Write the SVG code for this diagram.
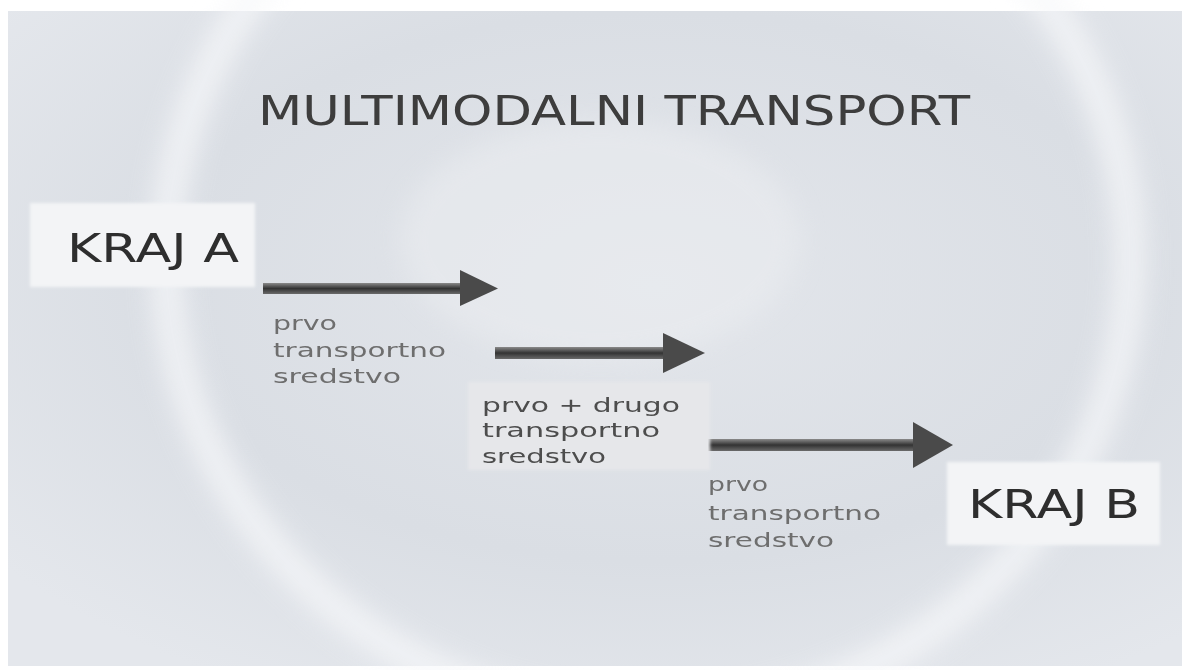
<svg xmlns="http://www.w3.org/2000/svg" width="1188" height="670" viewBox="0 0 1188 670">
  <defs>
    <style>
      .title { font-family: "DejaVu Sans", "Liberation Sans", sans-serif; font-size: 41px; fill: #3c3c3c; }
      .end { font-family: "DejaVu Sans", "Liberation Sans", sans-serif; font-size: 39px; fill: #2e2e2e; }
      .lbl { font-family: "DejaVu Sans", "Liberation Sans", sans-serif; font-size: 19px; fill: #6e6e6e; }
      .lbl2 { font-family: "DejaVu Sans", "Liberation Sans", sans-serif; font-size: 19px; fill: #4e4e4e; }
      .shaft { fill: url(#shaftGrad); }
      .head { fill: #4a4a4a; }
      .endbox { fill: #f3f4f6; filter: url(#soft); }
    </style>
    <linearGradient id="shaftGrad" x1="0" y1="0" x2="0" y2="1">
      <stop offset="0" stop-color="#8a8a8a"/>
      <stop offset="0.5" stop-color="#333"/>
      <stop offset="1" stop-color="#6a6a6a"/>
    </linearGradient>
    <radialGradient id="bgGrad" cx="0.55" cy="0.42" r="0.7">
      <stop offset="0" stop-color="#e3e6eb"/>
      <stop offset="0.6" stop-color="#dadee4"/>
      <stop offset="1" stop-color="#e4e7ec"/>
    </radialGradient>
    <filter id="glow" x="-20%" y="-20%" width="140%" height="140%">
      <feGaussianBlur stdDeviation="12"/>
    </filter>
    <filter id="soft" x="-5%" y="-5%" width="110%" height="110%">
      <feGaussianBlur stdDeviation="1.5"/>
    </filter>
    <filter id="txt">
      <feGaussianBlur stdDeviation="0.45"/>
    </filter>
  </defs>

  <rect x="0" y="0" width="1188" height="670" fill="#ffffff"/>
  <g id="background">
    <rect x="8" y="11" width="1174" height="655" fill="url(#bgGrad)"/>
    <ellipse cx="648" cy="259" rx="482" ry="458" fill="none" stroke="#f7f8fa" stroke-width="34" opacity="0.7" filter="url(#glow)"/>
    <ellipse cx="600" cy="240" rx="200" ry="120" fill="#eceef1" opacity="0.5" filter="url(#glow)"/>
  </g>

  <g id="title" filter="url(#txt)">
    <text class="title" x="258" y="125" textLength="712" lengthAdjust="spacingAndGlyphs">MULTIMODALNI TRANSPORT</text>
  </g>

  <g id="kraj-a">
    <rect class="endbox" x="30" y="203" width="225" height="84"/>
    <text class="end" x="67" y="262" textLength="172" lengthAdjust="spacingAndGlyphs" filter="url(#txt)">KRAJ A</text>
  </g>

  <g id="kraj-b">
    <rect class="endbox" x="947" y="462" width="213" height="83"/>
    <text class="end" x="968" y="518" textLength="172" lengthAdjust="spacingAndGlyphs" filter="url(#txt)">KRAJ B</text>
  </g>

  <g id="connectors">
    <g id="arrow-1">
      <rect class="shaft" x="263" y="283" width="199" height="11"/>
      <polygon class="head" points="460,270 498,288.5 460,306"/>
    </g>
    <g id="arrow-2">
      <rect class="shaft" x="495" y="347" width="170" height="12"/>
      <polygon class="head" points="663,333 705,353 663,373"/>
    </g>
    <g id="arrow-3">
      <rect class="shaft" x="708" y="439" width="207" height="12"/>
      <polygon class="head" points="913,422 953,445 913,468"/>
    </g>
  </g>

  <g id="label-1" filter="url(#txt)">
    <text class="lbl" x="273" y="330" textLength="64" lengthAdjust="spacingAndGlyphs">prvo</text>
    <text class="lbl" x="273" y="357" textLength="173" lengthAdjust="spacingAndGlyphs">transportno</text>
    <text class="lbl" x="273" y="383" textLength="128" lengthAdjust="spacingAndGlyphs">sredstvo</text>
  </g>

  <g id="label-2">
    <rect x="468" y="382" width="242" height="88" fill="#e6e7ea" filter="url(#soft)"/>
    <g filter="url(#txt)">
      <text class="lbl2" x="482" y="412" textLength="198" lengthAdjust="spacingAndGlyphs">prvo + drugo</text>
      <text class="lbl2" x="482" y="437" textLength="178" lengthAdjust="spacingAndGlyphs">transportno</text>
      <text class="lbl2" x="482" y="463" textLength="124" lengthAdjust="spacingAndGlyphs">sredstvo</text>
    </g>
  </g>

  <g id="label-3" filter="url(#txt)">
    <text class="lbl" x="708" y="491" textLength="60" lengthAdjust="spacingAndGlyphs">prvo</text>
    <text class="lbl" x="708" y="520" textLength="173" lengthAdjust="spacingAndGlyphs">transportno</text>
    <text class="lbl" x="708" y="547" textLength="126" lengthAdjust="spacingAndGlyphs">sredstvo</text>
  </g>
</svg>
